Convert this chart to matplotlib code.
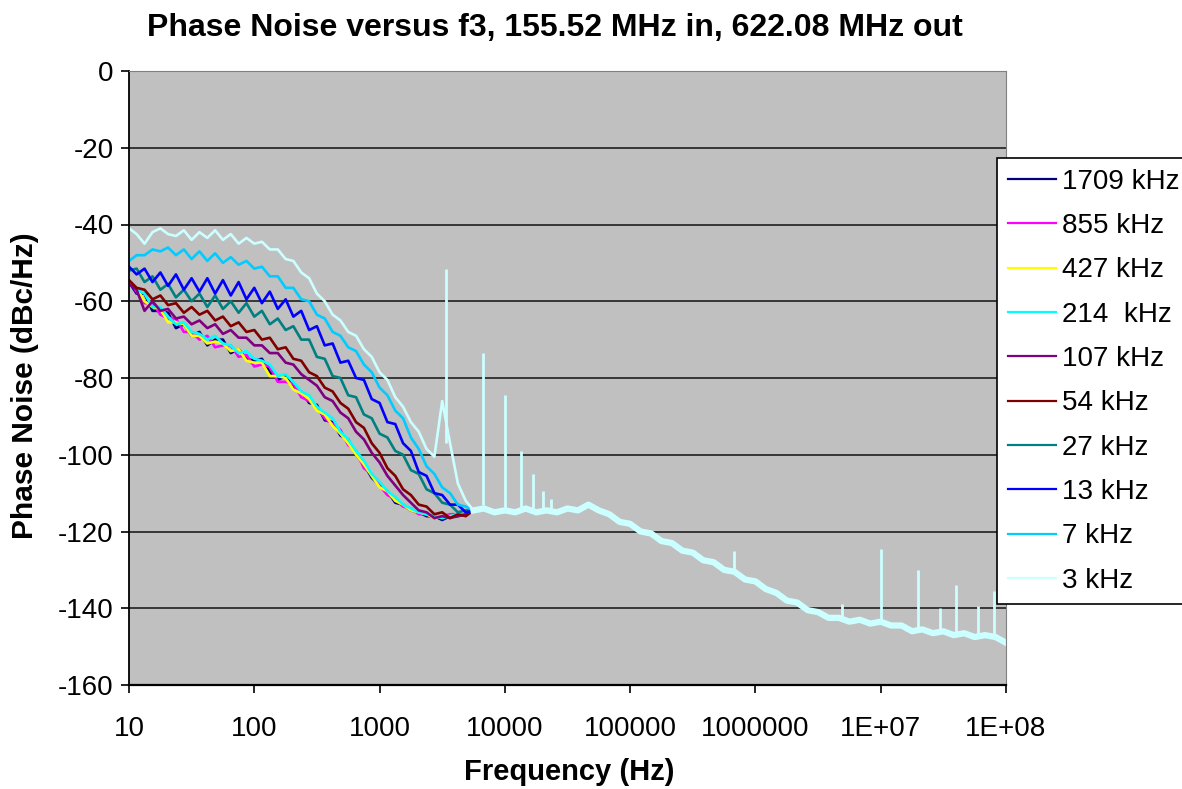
import matplotlib
matplotlib.use("Agg")
import matplotlib.pyplot as plt
from matplotlib import font_manager
from matplotlib.ticker import FixedLocator, NullLocator

plt.rcParams["font.family"] = ["Liberation Sans", "DejaVu Sans"]
plt.rcParams["axes.unicode_minus"] = False

# offset frequencies (Hz) where the curves still differ
FREQ_LO = [10, 11.5, 13.3, 15.4, 17.8, 20.5, 23.7, 27.4, 31.6, 36.5,
           42.2, 48.7, 56.2, 64.9, 75, 86.6, 100, 115, 133, 154,
           178, 205, 237, 274, 316, 365, 422, 487, 562, 649,
           750, 866, 1000, 1155, 1334, 1540, 1778, 2054, 2371, 2738,
           3162, 3652, 4217, 4870]

# phase noise (dBc/Hz) per f3 setting
PN_1709 = [-55, -58, -58, -62.5, -62.5, -63, -67, -66, -69, -68,
           -71.5, -70, -70, -73.5, -72.5, -75, -75.5, -75, -78.5, -80.5,
           -79.5, -82.5, -83.5, -86.5, -87, -91, -91.5, -95, -96, -100,
           -102.5, -106, -108, -109.5, -112.5, -113, -114.5, -115, -116, -116,
           -117, -116, -116, -115.5]
PN_855 = [-54.5, -57.5, -60.5, -60.5, -63.5, -64.5, -64.5, -68, -68, -70,
          -69, -72, -71.5, -71.5, -74.5, -74, -77, -76.5, -77, -81,
          -81, -81.5, -85, -86, -87.5, -90.5, -92, -93.5, -97.5, -99,
          -103.5, -105, -108, -110.5, -111.5, -113.5, -114, -115.5, -115.5, -116.5,
          -116, -115.5, -115.5, -115.5]
PN_427 = [-55, -56.5, -60, -61.5, -62, -65.5, -65.5, -66, -69, -69,
          -71, -70.5, -71, -73, -72.5, -75.5, -76, -76, -79.5, -79.5,
          -80, -83, -84, -85.5, -88.5, -89.5, -92.5, -94.5, -97, -100,
          -102.5, -105.5, -108.5, -109.5, -112, -113, -114.5, -115, -115.5, -116.5,
          -116, -116, -115.5, -115.5]
PN_214 = [-54.5, -57, -58, -61.5, -61.5, -64, -66, -65.5, -68, -68.5,
          -70, -69, -71, -71.5, -73.5, -73, -75, -75.5, -76.5, -79.5,
          -79, -81, -83.5, -84.5, -87.5, -89, -90.5, -94, -96, -99,
          -101.5, -105, -107, -109.5, -111, -113, -114, -115, -115.5, -116,
          -116.5, -116, -115.5, -115.5]
PN_107 = [-55.5, -57, -62.5, -60, -62.5, -62, -64.5, -64, -66, -65,
          -67, -66, -68.5, -67.5, -69.5, -69.5, -71.5, -71.5, -73.5, -73.5,
          -76, -76.5, -79, -80.5, -82, -85, -86, -89, -90.5, -94,
          -96, -99.5, -102, -105.5, -108, -110.5, -112.5, -114.5, -115, -116.5,
          -116, -116.5, -116, -115.5]
PN_54 = [-54.5, -56.5, -57, -59.5, -58.5, -61, -60.5, -63, -61.5, -63.5,
         -62.5, -65, -64, -66.5, -65.5, -68, -67.5, -70, -69.5, -72.5,
         -72, -75, -75.5, -78.5, -79.5, -82.5, -83.5, -86.5, -88, -91.5,
         -93, -97, -99.5, -103.5, -105.5, -109, -110.5, -113, -113.5, -115.5,
         -115, -116.5, -115.5, -116]
PN_27 = [-52, -51.5, -55, -53.5, -57, -55.5, -59, -57, -60, -58,
         -61.5, -58.5, -62, -60, -63, -60.5, -64, -62.5, -66, -64.5,
         -67.5, -66.5, -70, -70, -74.5, -75, -79.5, -80, -84.5, -85,
         -89.5, -90.5, -94.5, -95.5, -99, -100, -104, -105, -109, -110,
         -112.5, -113, -115, -114.5]
PN_13 = [-51, -53, -51.5, -55, -52.5, -56, -53, -57, -54, -57.5,
         -54, -58, -54.5, -58.5, -55, -59.5, -56.5, -60.5, -57.5, -62,
         -59.5, -64, -62.5, -67.5, -66.5, -71.5, -71, -76, -75.5, -80,
         -80.5, -85.5, -86.5, -91.5, -92, -97, -99, -104.5, -105.5, -110,
         -110.5, -113, -113, -115]
PN_7 = [-49.5, -48, -48, -46.5, -47, -46, -48, -46.5, -49, -47,
        -49.5, -47.5, -50, -48.5, -50.5, -49.5, -51.5, -51, -53.5, -53.5,
        -56.5, -56.5, -59.5, -60, -63.5, -64.5, -68, -69, -72, -73,
        -76.5, -78.5, -82.5, -84.5, -88.5, -90.5, -95.5, -98.5, -103, -105,
        -108.5, -110, -113, -113.5]
PN_3 = [-41, -42.5, -45, -42, -41, -42.5, -43, -41.5, -44, -42,
        -43.5, -41.5, -44, -42.5, -45, -43.5, -45, -44.5, -46.5, -46.5,
        -49, -49.5, -52.5, -54, -58, -60, -63.5, -65, -68, -69,
        -72.5, -74.5, -78.5, -80.5, -85, -87.5, -91.5, -94, -98.5, -100.5,
        -86, -97, -107.5, -112]

# common high-offset part, where all curves sit on top of each other
FREQ_HI = [5623, 6813, 8254, 1e4, 12115, 14678, 17783, 21544, 26102, 31623,
           38312, 46416, 56234, 68129, 82540, 1e5, 121153, 146780, 177828, 215443,
           261016, 316228, 383119, 464159, 562341, 681292, 825404, 1e6, 1.21e6, 1.47e6,
           1.78e6, 2.15e6, 2.61e6, 3.16e6, 3.83e6, 4.64e6, 5.62e6, 6.81e6, 8.25e6, 1e7,
           1.21e7, 1.47e7, 1.78e7, 2.15e7, 2.61e7, 3.16e7, 3.83e7, 4.64e7, 5.62e7, 6.81e7,
           8.25e7, 1e8]
PN_TAIL = [-114.5, -114, -115, -114.5, -115, -114, -115, -114.5, -115, -114,
           -114.5, -113, -114.5, -115.5, -117.5, -118, -120, -120.5, -122.5, -123,
           -125, -125.5, -127.5, -128, -130, -130.5, -132.5, -133, -135, -136,
           -138, -138.5, -140.5, -141, -142.5, -142.5, -143.5, -143, -144, -143.5,
           -144.5, -144.5, -146, -145.5, -146.5, -146, -147, -146.5, -147.5, -147,
           -147.5, -149]

# spurs of the 3 kHz curve (reference harmonics)
SPUR3_F = [3370, 6700, 10050, 13400, 16750, 20100, 23500]
SPUR3_TOP = [-51.5, -73.5, -84.5, -99, -105, -109.5, -111.5]
SPUR3_BASE = [-97, -113, -114, -114, -114, -114, -114]

# spurs shared by all curves at high offsets
SPUR_F = [675e3, 4.9e6, 1e7, 2e7, 3e7, 4e7, 6e7, 8e7]
SPUR_TOP = [-125, -139, -124.5, -130, -140, -134, -139.5, -135.5]
SPUR_BASE = [-131, -142.5, -144, -145.5, -146, -146.5, -147, -147.5]

LABELS = ["1709 kHz", "855 kHz", "427 kHz", "214  kHz", "107 kHz",
          "54 kHz", "27 kHz", "13 kHz", "7 kHz", "3 kHz"]
COLORS = ["#000080", "#FF00FF", "#FFFF00", "#00FFFF", "#800080",
          "#800000", "#008080", "#0000FF", "#00CCFF", "#CCFFFF"]
CURVES = [PN_1709, PN_855, PN_427, PN_214, PN_107,
          PN_54, PN_27, PN_13, PN_7, PN_3]

XTICKS = [10, 100, 1000, 1e4, 1e5, 1e6, 1e7, 1e8]
XTICK_LABELS = ["10", "100", "1000", "10000", "100000", "1000000", "1E+07", "1E+08"]
YTICKS = [0, -20, -40, -60, -80, -100, -120, -140, -160]

# title in the picture is a condensed bold face
installed = {f.name for f in font_manager.fontManager.ttflist}
if "Liberation Sans Narrow" in installed:
    title_font = dict(family=["Liberation Sans Narrow", "DejaVu Sans"], fontsize=28)
else:
    title_font = dict(fontsize=23)

W, H = 1182, 789
fig = plt.figure(figsize=(W / 100, H / 100), dpi=100)
ax = fig.add_axes([129 / W, 1 - 685 / H, (1006 - 129) / W, (685 - 71) / H])
ax.set_facecolor("#C0C0C0")

for lab, col, lo in zip(LABELS, COLORS, CURVES):
    ax.plot(FREQ_LO + FREQ_HI, lo + PN_TAIL, color=col, lw=1.9, label=lab)

# the top curve makes the thick light band at high offsets
ax.plot(FREQ_HI, PN_TAIL, color=COLORS[-1], lw=4.5)
ax.vlines(SPUR3_F, SPUR3_BASE, SPUR3_TOP, color=COLORS[-1], lw=2)
ax.vlines(SPUR_F, SPUR_BASE, SPUR_TOP, color=COLORS[-1], lw=2)

ax.set_xscale("log")
ax.set_xlim(10, 1e8)
ax.set_ylim(-160, 0)
ax.xaxis.set_major_locator(FixedLocator(XTICKS))
ax.xaxis.set_minor_locator(NullLocator())
ax.set_xticklabels(XTICK_LABELS)
ax.set_yticks(YTICKS)
ax.set_yticklabels([str(v) for v in YTICKS])
ax.tick_params(axis="both", labelsize=20, direction="out", length=6, width=1.2, color="black")
ax.tick_params(axis="x", pad=16)
ax.tick_params(axis="y", pad=5)

ax.grid(axis="y", color="#202020", lw=1.2)
ax.grid(axis="x", visible=False)
ax.set_axisbelow(True)

ax.spines["left"].set_color("black")
ax.spines["left"].set_linewidth(1.3)
ax.spines["bottom"].set_color("black")
ax.spines["bottom"].set_linewidth(1.6)
ax.spines["top"].set_color("#808080")
ax.spines["right"].set_color("#808080")

fig.text(555 / W, 1 - 28 / H, "Phase Noise versus f3, 155.52 MHz in, 622.08 MHz out",
         ha="center", va="center", fontweight="bold", **title_font)
fig.text(569 / W, 1 - 772 / H, "Frequency (Hz)", ha="center", va="center",
         fontsize=21, fontweight="bold")
fig.text(25 / W, 1 - 386 / H, "Phase Noise (dBc/Hz)", ha="center", va="center",
         rotation=90, fontsize=21.5, fontweight="bold")

handles, labels = ax.get_legend_handles_labels()
leg = fig.legend(handles[:10], labels[:10], loc="upper left",
                 bbox_to_anchor=(997 / W, 1 - 158 / H), bbox_transform=fig.transFigure,
                 fontsize=20, frameon=True, fancybox=False, edgecolor="black",
                 framealpha=1, borderaxespad=0, borderpad=0.38,
                 handlelength=1.75, handletextpad=0.22, labelspacing=0.66)
leg.get_frame().set_linewidth(1.2)
for ln in leg.get_lines():
    ln.set_linewidth(1.6)

fig.savefig("out.png", dpi=100)
